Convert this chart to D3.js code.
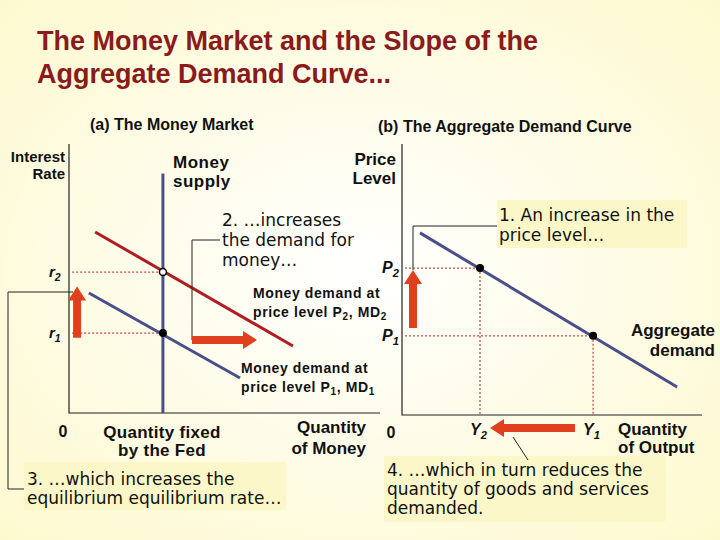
<!DOCTYPE html>
<html><head><meta charset="utf-8">
<script src="https://cdn.jsdelivr.net/npm/d3@7"></script>
<style>body{margin:0}svg{display:block}</style></head>
<body><svg id="c" width="720" height="540"></svg>
<script>
// ---- data ----
const rateLabels = ["r2", "r1"];
const rateValues = [52.4, 29.7];
const moneySupply = 30.2;
const md2 = [[8.4, 67.3], [72, 24.9]];
const md1 = [[6.4, 44.6], [55, 13]];
const priceLabels = ["P2", "P1"];
const priceValues = [54.2, 29.2];
const outputLabels = ["Y2", "Y1"];
const outputValues = [26, 63.7];
const adCurve = [[6, 67.2], [91.7, 10.3]];

const svg = d3.select("#c");
const defs = svg.append("defs");
const g = defs.append("radialGradient").attr("id","bg").attr("cx","50%").attr("cy","50%").attr("r","70%");
g.append("stop").attr("offset","0%").attr("stop-color","#ffffff");
g.append("stop").attr("offset","100%").attr("stop-color","#fdf9cf");
svg.append("rect").attr("width",720).attr("height",540).attr("fill","url(#bg)");

const F = "Arial, 'Liberation Sans', sans-serif";
const V = "Verdana, 'DejaVu Sans', sans-serif";
const red = "#b01c22", navy = "#4a4f8c", arrowC = "#e0401e", dot = "#c0504d";

function text(x,y,lines,opt={}){
  const t = svg.append("text").attr("x",x).attr("y",y)
    .attr("font-family",opt.family||F).attr("font-size",opt.size||16)
    .attr("font-weight",opt.weight||"bold").attr("fill",opt.fill||"#111")
    .attr("text-anchor",opt.anchor||"start").attr("letter-spacing",opt.ls||0);
  lines.forEach((l,i)=>t.append("tspan").attr("x",x).attr("dy",i?(opt.lh||18):0).text(l));
  return t;
}
function sub(x,y,base,s,opt={}){
  const t = svg.append("text").attr("x",x).attr("y",y).attr("font-family",F).attr("font-size",opt.size||16)
    .attr("font-weight","bold").attr("font-style","italic").attr("text-anchor",opt.anchor||"start").attr("fill","#111");
  t.append("tspan").text(base);
  t.append("tspan").attr("dy",4).attr("font-size",(opt.size||16)*0.7).text(s);
}
function mdLabel(x,y,n){
  const t=svg.append("text").attr("x",x).attr("y",y).attr("font-family",F).attr("font-size",14).attr("font-weight","bold").attr("letter-spacing",0.6).attr("fill","#111");
  t.append("tspan").attr("x",x).text("Money demand at");
  t.append("tspan").attr("x",x).attr("dy",19).text("price level P");
  t.append("tspan").attr("dy",3).attr("font-size",10).text(n);
  t.append("tspan").attr("dy",-3).text(", MD");
  t.append("tspan").attr("dy",3).attr("font-size",10).text(n);
}
function box(x,y,w,h){svg.append("rect").attr("x",x).attr("y",y).attr("width",w).attr("height",h).attr("fill","#fbf7c8");}
function arrow(x1,y1,x2,y2){
  const a=Math.atan2(y2-y1,x2-x1), hl=14, hw=9, sw=4;
  const bx=x2-hl*Math.cos(a), by=y2-hl*Math.sin(a), nx=-Math.sin(a), ny=Math.cos(a);
  const p=[[x1+nx*sw,y1+ny*sw],[bx+nx*sw,by+ny*sw],[bx+nx*hw,by+ny*hw],[x2,y2],[bx-nx*hw,by-ny*hw],[bx-nx*sw,by-ny*sw],[x1-nx*sw,y1-ny*sw]];
  svg.append("path").attr("d",d3.line()(p)).attr("fill",arrowC);
}

// title
text(37,50,["The Money Market and the Slope of the","Aggregate Demand Curve..."],{size:27,fill:"#8b1a1a",lh:33});
text(90,130,["(a) The Money Market"],{size:16});
text(378,132,["(b) The Aggregate Demand Curve"],{size:16});

// ---- left panel ----
const xL = d3.scaleLinear().domain([0,100]).range([69,380]);
const yL = d3.scaleLinear().domain([0,100]).range([413,144]);
const ln = d3.line().x(d=>xL(d[0])).y(d=>yL(d[1]));

box(24,462,262,48);
box(497,200,190,48);
box(384,456,282,66);

svg.append("path").attr("d",ln([[0,100],[0,0],[100,0]])).attr("fill","none").attr("stroke","#222").attr("stroke-width",1.2);
rateValues.forEach((v,i)=>{
  svg.append("line").attr("x1",xL(1)).attr("x2",xL(moneySupply)).attr("y1",yL(v)).attr("y2",yL(v))
    .attr("stroke",dot).attr("stroke-dasharray","2,2").attr("stroke-width",1.3);
  sub(xL(0)-20,yL(v)+5,rateLabels[i][0],rateLabels[i][1],{size:15});
});
svg.append("line").attr("x1",xL(moneySupply)).attr("x2",xL(moneySupply)).attr("y1",yL(89)).attr("y2",yL(0)).attr("stroke",navy).attr("stroke-width",3);
svg.append("path").attr("d",ln(md2)).attr("stroke",red).attr("stroke-width",3);
svg.append("path").attr("d",ln(md1)).attr("stroke",navy).attr("stroke-width",3);
svg.append("circle").attr("cx",xL(moneySupply)).attr("cy",yL(rateValues[0])).attr("r",3.5).attr("fill","#fff").attr("stroke","#000").attr("stroke-width",1.5);
svg.append("circle").attr("cx",xL(moneySupply)).attr("cy",yL(rateValues[1])).attr("r",4).attr("fill","#000");

svg.append("path").attr("d","M192,340V240H220").attr("fill","none").attr("stroke","#222");
svg.append("path").attr("d","M73,292H8V489H24").attr("fill","none").attr("stroke","#222");
arrow(xL(2.6),yL(28),xL(2.6),yL(47));
arrow(192,340,257,340);

text(65,162,["Interest","Rate"],{size:15,anchor:"end",lh:17});
text(173,168,["Money","supply"],{size:17,lh:19,ls:0.5});
text(222,226,["2. …increases","the demand for","money…"],{size:17,weight:"normal",family:V,lh:20});
mdLabel(253,298,"2");
mdLabel(241,373,"1");
text(63,437,["0"],{size:16,anchor:"middle"});
text(162,438,["Quantity fixed","by the Fed"],{size:17,anchor:"middle",lh:18,ls:0.3});
text(366,433,["Quantity","of Money"],{size:17,anchor:"end",lh:21});
text(27,485,["3. …which increases the","equilibrium equilibrium rate…"],{size:17,weight:"normal",family:V,lh:19});

// ---- right panel ----
const xR = d3.scaleLinear().domain([0,100]).range([402,702]);
const yR = d3.scaleLinear().domain([0,100]).range([415,144]);
const lr = d3.line().x(d=>xR(d[0])).y(d=>yR(d[1]));
svg.append("path").attr("d",lr([[0,100],[0,0],[100,0]])).attr("fill","none").attr("stroke","#222").attr("stroke-width",1.2);
priceValues.forEach((v,i)=>{
  svg.append("line").attr("x1",xR(1)).attr("x2",xR(outputValues[i])).attr("y1",yR(v)).attr("y2",yR(v))
    .attr("stroke",dot).attr("stroke-dasharray","2,2").attr("stroke-width",1.3);
  svg.append("line").attr("x1",xR(outputValues[i])).attr("x2",xR(outputValues[i])).attr("y1",yR(v)).attr("y2",yR(0))
    .attr("stroke",dot).attr("stroke-dasharray","2,2").attr("stroke-width",1.3);
  sub(xR(0)-3,yR(v)+5,priceLabels[i][0],priceLabels[i][1],{size:16,anchor:"end"});
  sub(xR(outputValues[i])-10,yR(0)+20,outputLabels[i][0],outputLabels[i][1],{size:16});
});
svg.append("path").attr("d",lr(adCurve)).attr("stroke",navy).attr("stroke-width",3);
priceValues.forEach((v,i)=>svg.append("circle").attr("cx",xR(outputValues[i])).attr("cy",yR(v)).attr("r",4).attr("fill","#000"));
svg.append("path").attr("d","M413,270V226H497").attr("fill","none").attr("stroke","#222");
svg.append("path").attr("d","M513,437L528,460").attr("fill","none").attr("stroke","#222");
arrow(413,328,413,270);
arrow(575,428,490,428);

text(396,165,["Price","Level"],{size:17,anchor:"end",lh:19});
text(499,221,["1. An increase in the","price level…"],{size:17,weight:"normal",family:V,lh:20});
text(715,336,["Aggregate","demand"],{size:17,anchor:"end",lh:20});
text(391,438,["0"],{size:16,anchor:"middle"});
text(618,435,["Quantity","of Output"],{size:17,lh:18});
text(387,476,["4. …which in turn reduces the","quantity of goods and services","demanded."],{size:17,weight:"normal",family:V,lh:19});
</script></body></html>
